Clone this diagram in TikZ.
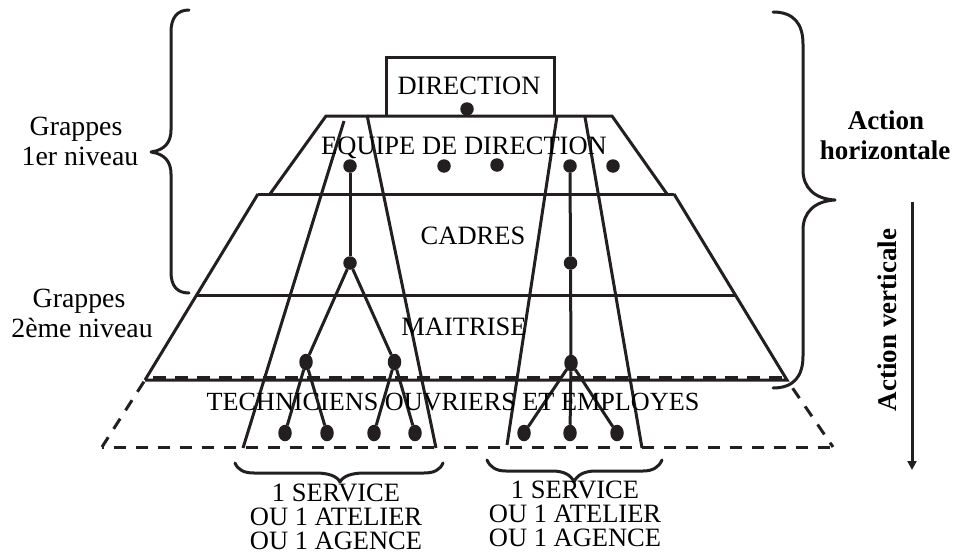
\documentclass[tikz,border=0pt]{standalone}
\usepackage{fontspec}
\setmainfont{Liberation Serif}
\usetikzlibrary{shapes.geometric,arrows.meta}
\definecolor{ink}{HTML}{231F20}
\tikzset{
  lab/.style={anchor=base,inner sep=0pt,outer sep=0pt,text=black,font=\fontsize{26.5}{26.5}\selectfont},
  llab/.style={lab,font=\fontsize{27.8}{27.8}\selectfont},
  blab/.style={lab,font=\fontsize{27}{27}\selectfont\bfseries},
  dot/.style={circle,fill=ink,draw=none,minimum size=13.5pt,inner sep=0pt,outer sep=0pt},
  tdot/.style={ellipse,fill=ink,draw=none,minimum width=13.5pt,minimum height=16.5pt,inner sep=0pt,outer sep=0pt},
  solid line/.style={draw=ink,line width=3pt},
  dash line/.style={draw=ink,line width=3pt,dash pattern=on 12.5pt off 9.5pt},
  side dash/.style={draw=ink,line width=3pt,dash pattern=on 12pt off 10pt},
  conn/.style={draw=ink,line width=3pt},
  brace/.style={draw=ink,line width=3pt,line cap=round,line join=round}
}
\begin{document}
\begin{tikzpicture}[x=1pt,y=-1pt]
\useasboundingbox (0,0) rectangle (955,554);
% pyramid coordinates
\coordinate (dtl) at (386,116); \coordinate (dtt) at (386,57); \coordinate (drt) at (554,57); \coordinate (drb) at (554,116);
\coordinate (a1) at (326,116); \coordinate (a2) at (612,116);
\coordinate (b1) at (270,194); \coordinate (b2) at (667,194);
\coordinate (c1) at (258,194); \coordinate (c2) at (674,194);
\coordinate (d1) at (197,295); \coordinate (d2) at (735,295);
\coordinate (e1) at (145,380); \coordinate (e2) at (787,380);
\coordinate (f1) at (102,447); \coordinate (f2) at (833,447);
\coordinate (g1) at (145,377.5); \coordinate (g2) at (787,377.5);
\coordinate (s1t) at (344,121); \coordinate (s1b) at (243,448);
\coordinate (s2t) at (367,115); \coordinate (s2b) at (436,448);
\coordinate (s3t) at (557,116); \coordinate (s3b) at (507,445);
\coordinate (s4t) at (585,117); \coordinate (s4b) at (642,448);
% levels
\draw[solid line,line join=miter] (dtl) -- (dtt) -- (drt) -- (drb);
\draw[solid line] (b1) -- (a1) -- (a2) -- (b2);
\draw[solid line] (c1) -- (c2);
\draw[solid line] (d1) -- (d2);
\draw[solid line] (e1) -- (c1);
\draw[solid line] (c2) -- (e2) -- (e1);
\draw[dash line,dash phase=14pt] (g1) -- (g2);
\draw[dash line,dash phase=10.5pt] (f1) -- (f2);
\draw[side dash,dash phase=20pt] (e1) -- (f1);
\draw[side dash,dash phase=12pt] (e2) -- (f2);
% service columns
\draw[solid line] (s1t) -- (s1b);
\draw[solid line] (s2t) -- (s2b);
\draw[solid line] (s3t) -- (s3b);
\draw[solid line] (s4t) -- (s4b);
% dots
\node[dot] (top) at (467,109) {};
\node[dot] (t1) at (350,166) {};
\node[dot] (t2) at (444,166) {};
\node[dot] (t3) at (497,165) {};
\node[dot] (t4) at (570,166) {};
\node[dot] (t5) at (613,166) {};
\node[dot] (m1) at (350,263) {};
\node[dot] (m2) at (570.5,263) {};
\node[tdot] (k1) at (306,362) {};
\node[tdot] (k2) at (394.5,362) {};
\node[tdot] (k3) at (571,363) {};
\node[tdot] (w1) at (285,433) {};
\node[tdot] (w2) at (327,433) {};
\node[tdot] (w3) at (374,433) {};
\node[tdot] (w4) at (415,433) {};
\node[tdot] (w5) at (524,433) {};
\node[tdot] (w6) at (570,433) {};
\node[tdot] (w7) at (617,433) {};
% connectors
\draw[conn] (t1) -- (m1);
\draw[conn] (m1) -- (k1);
\draw[conn] (m1) -- (k2);
\draw[conn] (k1) -- (w1);
\draw[conn] (k1) -- (w2);
\draw[conn] (k2) -- (w3);
\draw[conn] (k2) -- (w4);
\draw[conn] (t4) -- (m2);
\draw[conn] (m2) -- (k3);
\draw[conn] (k3) -- (w5);
\draw[conn] (k3) -- (w6);
\draw[conn] (k3) -- (w7);
% braces
\draw[brace] (189,10) .. controls (177,10) and (171,18) .. (171,32) -- (171,130)
  .. controls (171,142) and (165,150) .. (151,152)
  .. controls (165,154) and (171,162) .. (171,174) -- (171,272)
  .. controls (171,286) and (177,293) .. (189,293);
\draw[brace] (773,12) .. controls (794,12) and (803,24) .. (803,44) -- (803,170)
  .. controls (803,188) and (815,199) .. (835,200)
  .. controls (815,201) and (803,212) .. (803,230) -- (803,356)
  .. controls (803,376) and (794,388) .. (773,388);
\draw[brace] (235,463) .. controls (238,470) and (244,473) .. (254,473) -- (316,473)
  .. controls (328,473) and (337,476) .. (340,482)
  .. controls (343,476) and (352,473) .. (364,473) -- (424,473)
  .. controls (434,473) and (440,470) .. (443,463);
\draw[brace] (487,460) .. controls (490,467) and (496,471) .. (506,471) -- (552,471)
  .. controls (564,471) and (571,475) .. (574,482)
  .. controls (577,475) and (584,471) .. (596,471) -- (643,471)
  .. controls (653,471) and (659,467) .. (662,460);
% arrow
\coordinate (va) at (912,202); \coordinate (vb) at (912,470);
\draw[draw=ink,fill=ink,line width=3pt,-{Triangle[length=9pt,width=9pt]}] (va) -- (vb);
% labels
\node[lab] (ldir) at (469,94) {DIRECTION};
\node[lab] (lequ) at (464,154) {EQUIPE DE DIRECTION};
\node[lab] (lcad) at (473,244) {CADRES};
\node[lab] (lmai) at (464,335) {MAITRISE};
\node[lab,font=\fontsize{26.2}{26.2}\selectfont] (ltec) at (453,410) {TECHNICIENS OUVRIERS ET EMPLOYES};
\node[llab] (g1a) at (76,135) {Grappes};
\node[llab] (g1b) at (80,165) {1er niveau};
\node[llab] (g2a) at (79,307) {Grappes};
\node[llab] (g2b) at (82,337) {2ème niveau};
\node[lab] (s1a) at (336,501) {1 SERVICE};
\node[lab] (s1b) at (336,525) {OU 1 ATELIER};
\node[lab] (s1c) at (336,549) {OU 1 AGENCE};
\node[lab] (s2a) at (575,498) {1 SERVICE};
\node[lab] (s2b) at (575,522) {OU 1 ATELIER};
\node[lab] (s2c) at (575,546) {OU 1 AGENCE};
\node[blab] (ah1) at (886,129) {Action};
\node[blab] (ah2) at (885,159) {horizontale};
\node[blab,rotate=90] (av) at (896,320) {Action verticale};
\end{tikzpicture}
\end{document}
